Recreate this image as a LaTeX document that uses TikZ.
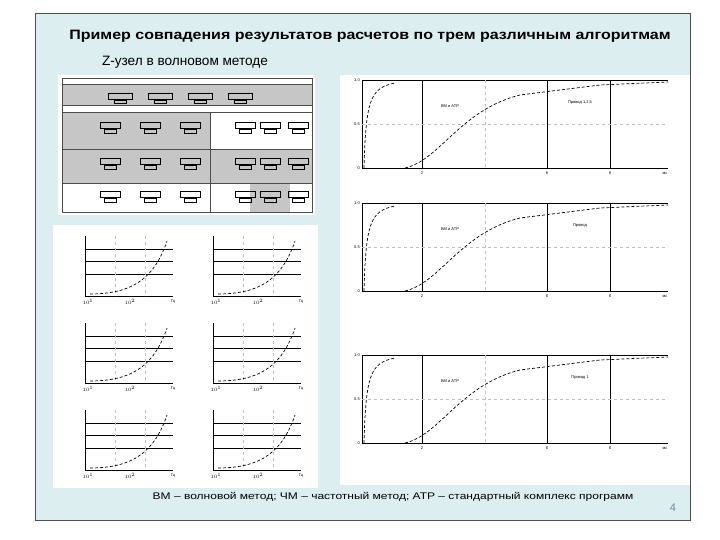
\documentclass[tikz,border=0pt]{standalone}
\usepackage{fontspec}
\setmainfont{Liberation Sans}
\begin{document}
\begin{tikzpicture}[x=1pt,y=-1pt,
  grid/.style={black,line width=0.8pt},
  curve/.style={black,densely dashed,line width=0.7pt},
  tk/.style={font=\fontsize{4}{4}\selectfont,inner sep=1pt},
  row/.style={fill=gray!45,draw=none}]
\useasboundingbox (0,0) rectangle (720,540);
\fill[white] (0,0) rectangle (720,540);
\node[draw=black!70,fill={rgb,255:red,220;green,238;blue,240},minimum width=655pt,minimum height=507pt,anchor=north west,inner sep=0] (frame) at (35,13) {};
\node[font=\bfseries\fontsize{16}{18}\selectfont,xscale=1,yscale=0.85] (title) at (370,36) {Пример совпадения результатов расчетов по трем различным алгоритмам};
\node[font=\fontsize{13.6}{15}\selectfont] (sub) at (185,62) {Z-узел в волновом методе};
% table
\node[fill=white,minimum width=257pt,minimum height=140pt,anchor=north west,inner sep=0] (tab) at (58,75) {};
\fill[row] (62,84) rectangle (312,105);
\fill[row] (62,112) rectangle (210,149);
\fill[row] (62,149) rectangle (312,183);
\fill[row] (250,183) rectangle (290,212);
\draw[black!70] (62,78) rectangle (312,212) (62,84)--(312,84) (62,105)--(312,105) (62,112)--(312,112) (62,149)--(312,149) (62,183)--(312,183) (210,112)--(210,212);
\foreach \x in {120,160,200,240} {\draw[line width=0.4pt] (\x-12,93) rectangle (\x+12,99); \draw (\x-6,100) rectangle (\x+6,103);}
\foreach \y in {127,163,196} {\foreach \x in {110,150,190,245,270,298} {\draw[line width=0.4pt] (\x-10,\y-5) rectangle (\x+10,\y+1); \draw (\x-6,\y+2) rectangle (\x+6,\y+6);}}
% left plots
\node[fill=white,minimum width=265pt,minimum height=263pt,anchor=north west,inner sep=0] (lp) at (53,225) {};
\foreach \ox/\oy in {85/236,213/236,85/323,213/323,85/410,213/410} {
  \draw[grid] (\ox,\oy) -- (\ox,\oy+60) -- (\ox+88,\oy+60);
  \draw[grid] (\ox,\oy+13)--(\ox+88,\oy+13) (\ox,\oy+25)--(\ox+88,\oy+25) (\ox,\oy+38)--(\ox+88,\oy+38);
  \draw[black!25,dashed] (\ox+30,\oy)--(\ox+30,\oy+60) (\ox+60,\oy)--(\ox+60,\oy+60);
  \draw[curve] (\ox+5,\oy+58) .. controls (\ox+50,\oy+58) and (\ox+70,\oy+40) .. (\ox+82,\oy+5);
  \node[tk] at (\ox+3,\oy+66) {$10^1$};
  \node[tk] at (\ox+45,\oy+66) {$10^2$};
  \node[tk] at (\ox+88,\oy+66) {Гц};
}
% right plots
\node[fill=white,minimum width=350pt,minimum height=410pt,anchor=north west,inner sep=0] (rp) at (340,75) {};
\foreach \oy/\lab in {80/{Провод 1,2,5},203/{Провод},355/{Провод 1}} {
  \draw[grid] (362,\oy)--(362,\oy+88)--(668,\oy+88);
  \draw[grid] (362,\oy)--(668,\oy);
  \draw[grid] (422,\oy)--(422,\oy+88) (547,\oy)--(547,\oy+88) (610,\oy)--(610,\oy+88);
  \draw[black!25,dashed] (362,\oy+44)--(668,\oy+44) (485,\oy)--(485,\oy+88);
  \node[tk,anchor=east] at (361,\oy) {1.0};
  \node[tk,anchor=east] at (361,\oy+44) {0.5};
  \node[tk,anchor=east] at (361,\oy+88) {0};
  \node[tk] at (422,\oy+93) {2};
  \node[tk] at (547,\oy+93) {6};
  \node[tk] at (610,\oy+93) {8};
  \node[tk] at (665,\oy+93) {мс};
  \draw[curve] (364,\oy+88) .. controls (366,\oy+20) and (370,\oy+8) .. (395,\oy+3);
  \draw[curve] (405,\oy+88) .. controls (440,\oy+80) and (460,\oy+30) .. (520,\oy+15) -- (600,\oy+5) -- (668,\oy+2);
  \node[tk] at (580,\oy+23) {\lab};
  \node[tk] at (450,\oy+26) {ВМ и АТР};
}
\node[font=\fontsize{12}{13}\selectfont,yscale=0.8] (cap) at (393,497) {ВМ – волновой метод; ЧМ – частотный метод; АТР – стандартный комплекс программ};
\node[font=\fontsize{11}{12}\selectfont,text={rgb,255:red,110;green,140;blue,170}] (pg) at (673,508) {4};
\end{tikzpicture}
\end{document}
